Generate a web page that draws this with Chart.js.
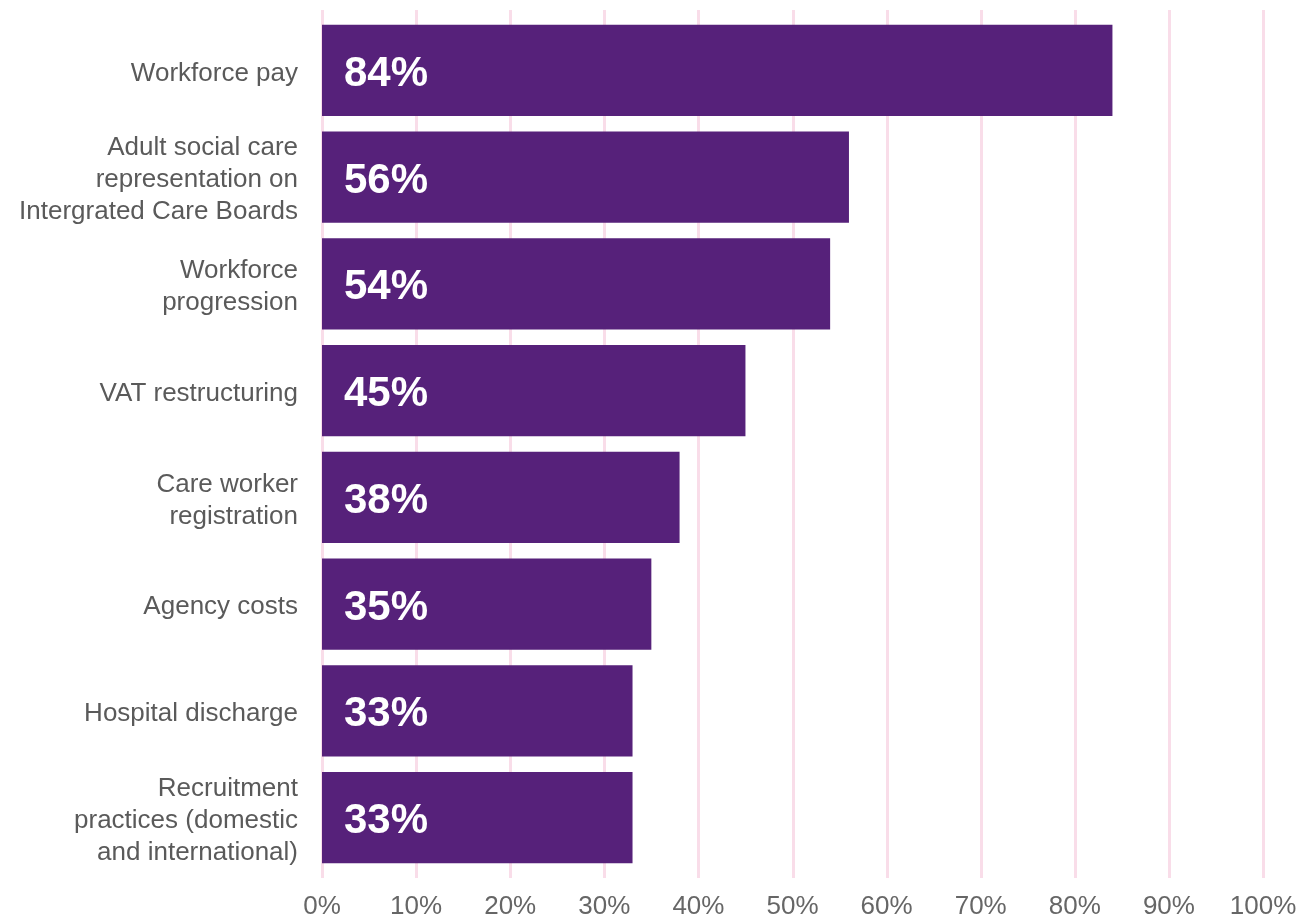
<!DOCTYPE html>
<html>
<head>
<meta charset="utf-8">
<script src="https://cdn.jsdelivr.net/npm/chart.js@4"></script>
<style>
  html, body { margin: 0; padding: 0; background: #fff; }
  #wrap { width: 1310px; height: 921px; position: relative; }
</style>
</head>
<body>
<div id="wrap"><canvas id="priorityChart"></canvas></div>
<script>
const categories = [
    'Workforce pay',
    ['Adult social care', 'representation on', 'Intergrated Care Boards'],
    ['Workforce', 'progression'],
    'VAT restructuring',
    ['Care worker', 'registration'],
    'Agency costs',
    'Hospital discharge',
    ['Recruitment', 'practices (domestic', 'and international)']
];
const percentages = [84, 56, 54, 45, 38, 35, 33, 33];
const tickValues = [0, 10, 20, 30, 40, 50, 60, 70, 80, 90, 100];

const FONT = '"Liberation Sans", Arial, sans-serif';
const GRID_COLOR = '#f9dde9';

// vertical grid lines, drawn a little past the plot top and bottom
const gridLines = {
    id: 'gridLines',
    beforeDatasetsDraw(chart) {
        const { ctx, chartArea, scales } = chart;
        ctx.save();
        ctx.strokeStyle = GRID_COLOR;
        ctx.lineWidth = 3;
        tickValues.forEach(v => {
            const x = Math.round(scales.x.getPixelForValue(v)) + 0.5;
            ctx.beginPath();
            ctx.moveTo(x, chartArea.top - 7);
            ctx.lineTo(x, chartArea.bottom + 7);
            ctx.stroke();
        });
        ctx.restore();
    }
};

// value label inside the start of each bar
const barLabels = {
    id: 'barLabels',
    afterDatasetsDraw(chart) {
        const { ctx } = chart;
        const meta = chart.getDatasetMeta(0);
        ctx.save();
        ctx.fillStyle = '#ffffff';
        ctx.font = 'bold 42px ' + FONT;
        ctx.textAlign = 'left';
        ctx.textBaseline = 'middle';
        meta.data.forEach((bar, i) => {
            ctx.fillText(percentages[i] + '%', bar.base + 22, bar.y + 4);
        });
        ctx.restore();
    }
};

new Chart(document.getElementById('priorityChart').getContext('2d'), {
    type: 'bar',
    data: {
        labels: categories,
        datasets: [{
            data: percentages,
            backgroundColor: '#56217a',
            borderWidth: 0,
            barPercentage: 0.853,
            categoryPercentage: 1
        }]
    },
    options: {
        indexAxis: 'y',
        responsive: true,
        maintainAspectRatio: false,
        animation: false,
        layout: { padding: { top: 17, right: 47, left: 0, bottom: 0 } },
        scales: {
            x: {
                min: 0,
                max: 100,
                grid: { display: false },
                border: { display: false },
                afterBuildTicks(scale) {
                    scale.ticks = tickValues.map(v => ({ value: v }));
                },
                afterFit(scale) {
                    scale.height = 50;
                    scale.paddingLeft = 0;
                    scale.paddingRight = 0;
                },
                ticks: {
                    padding: 12,
                    color: '#666666',
                    font: { family: FONT, size: 26 },
                    callback: v => v + '%'
                }
            },
            y: {
                grid: { display: false },
                border: { display: false },
                afterFit(scale) {
                    scale.width = 322;
                    scale.paddingTop = 0;
                    scale.paddingBottom = 0;
                },
                ticks: {
                    padding: 16,
                    labelOffset: 3,
                    color: '#5a5a5a',
                    font: { family: FONT, size: 26, lineHeight: 1.23 }
                }
            }
        },
        plugins: {
            legend: { display: false },
            tooltip: { enabled: false }
        }
    },
    plugins: [gridLines, barLabels]
});
</script>
</body>
</html>
